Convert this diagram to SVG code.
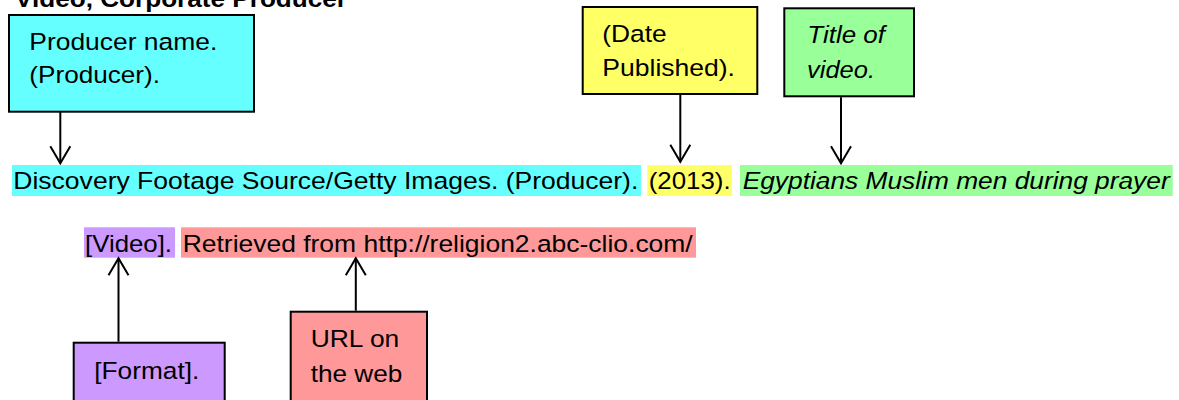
<svg xmlns="http://www.w3.org/2000/svg" width="1179" height="400" viewBox="0 0 1179 400">
<defs>
<style>
text{font-family:"Liberation Sans",Arial,sans-serif;font-size:24.5px;fill:#000}
.it{font-style:italic}
.b{font-weight:bold}
.box{stroke:#000;stroke-width:2}
.conn{stroke:#000;stroke-width:2;fill:none}
</style>
<marker id="arr" markerUnits="userSpaceOnUse" markerWidth="40" markerHeight="40" viewBox="-20 -20 40 40" refX="0" refY="0" orient="auto" overflow="visible">
<path d="M-17,-10 L0,0 L-17,10" fill="none" stroke="#000" stroke-width="2"/>
</marker>
</defs>
<rect width="1179" height="400" fill="#fff"/>
<text class="b" x="15" y="6.5" textLength="332" lengthAdjust="spacingAndGlyphs">Video, Corporate Producer</text>

<g id="citation">
<rect x="12" y="165" width="629" height="31" fill="#66FFFF"/>
<rect x="647.3" y="165" width="84.7" height="31" fill="#FFFF66"/>
<rect x="740" y="165" width="432.7" height="31" fill="#99FF99"/>
<rect x="84" y="227.3" width="91" height="30.4" fill="#CC99FF"/>
<rect x="181" y="227.3" width="515" height="30.4" fill="#FF9999"/>
<text x="13.3" y="189.3" textLength="625" lengthAdjust="spacingAndGlyphs">Discovery Footage Source/Getty Images. (Producer).</text>
<text x="648.7" y="189.3" textLength="82" lengthAdjust="spacingAndGlyphs">(2013).</text>
<text class="it" x="742.7" y="189.3" textLength="427" lengthAdjust="spacingAndGlyphs">Egyptians Muslim men during prayer</text>
<text x="85" y="251.7" textLength="87" lengthAdjust="spacingAndGlyphs">[Video].</text>
<text x="182.7" y="251.7" textLength="510" lengthAdjust="spacingAndGlyphs">Retrieved from http://religion2.abc-clio.com/</text>
</g>

<g id="producer">
<rect class="box" x="9" y="15" width="245" height="96.7" fill="#66FFFF"/>
<text x="29.3" y="50" textLength="188" lengthAdjust="spacingAndGlyphs">Producer name.</text>
<text x="29.3" y="83" textLength="130.7" lengthAdjust="spacingAndGlyphs">(Producer).</text>
</g>

<g id="date">
<rect class="box" x="582.7" y="7" width="174.6" height="87" fill="#FFFF66"/>
<text x="602.3" y="41.7" textLength="64.4" lengthAdjust="spacingAndGlyphs">(Date</text>
<text x="602.3" y="76" textLength="132.7" lengthAdjust="spacingAndGlyphs">Published).</text>
</g>

<g id="title">
<rect class="box" x="784.3" y="8.3" width="129.7" height="88" fill="#99FF99"/>
<text class="it" x="807.3" y="43.3" textLength="77.7" lengthAdjust="spacingAndGlyphs">Title of</text>
<text class="it" x="807" y="78" textLength="68" lengthAdjust="spacingAndGlyphs">video.</text>
</g>

<g id="format">
<rect class="box" x="73.7" y="342.7" width="151" height="80" fill="#CC99FF"/>
<text x="94.3" y="379" textLength="105" lengthAdjust="spacingAndGlyphs">[Format].</text>
</g>

<g id="url">
<rect class="box" x="290.7" y="311.7" width="136.3" height="100" fill="#FF9999"/>
<text x="310.7" y="346.7" textLength="88.6" lengthAdjust="spacingAndGlyphs">URL on</text>
<text x="310.7" y="381.7" textLength="91.6" lengthAdjust="spacingAndGlyphs">the web</text>
</g>

<g id="connectors">
<line class="conn" x1="60.3" y1="111.7" x2="60.3" y2="163.3" marker-end="url(#arr)"/>
<line class="conn" x1="680.3" y1="95" x2="680.3" y2="161.7" marker-end="url(#arr)"/>
<line class="conn" x1="841" y1="97.3" x2="841" y2="163.3" marker-end="url(#arr)"/>
<line class="conn" x1="118.5" y1="341.7" x2="118.5" y2="258.3" marker-end="url(#arr)"/>
<line class="conn" x1="355.8" y1="310.7" x2="355.8" y2="258.3" marker-end="url(#arr)"/>
</g>
</svg>
